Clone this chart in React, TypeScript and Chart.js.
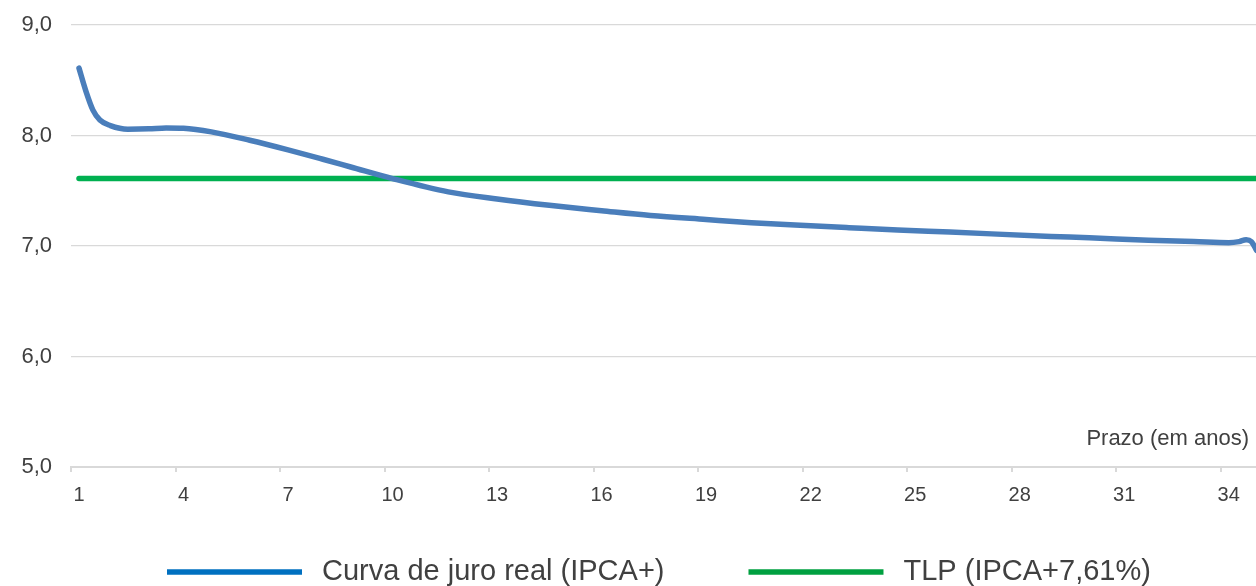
import React, { useEffect, useRef } from "react";
import { Chart, registerables } from "chart.js";

Chart.register(...registerables);

const curveLabel = "Curva de juro real (IPCA+)";
const tlpLabel = "TLP (IPCA+7,61%)";
const axisTitle = "Prazo (em anos)";

const curveYears = [1, 1.2, 1.4, 1.6, 1.9, 2.4, 3, 3.5, 4, 4.8, 5.9, 7, 8, 8.8, 10, 11.6, 13, 14.5, 16, 17.4, 19, 20.3, 22, 23.1, 24.5, 26, 28.9, 30, 31.7, 33, 34, 34.3, 34.5, 34.65, 34.8, 35];
const curveRates = [8.61, 8.4, 8.23, 8.14, 8.09, 8.057, 8.06, 8.069, 8.066, 8.033, 7.957, 7.87, 7.785, 7.715, 7.61, 7.49, 7.425, 7.368, 7.32, 7.277, 7.24, 7.211, 7.183, 7.166, 7.145, 7.126, 7.087, 7.075, 7.051, 7.04, 7.03, 7.04, 7.057, 7.04, 6.96, 6.85];

const tlpYears = [1, 35];
const tlpRates = [7.61, 7.61];

const xTickYears = [1, 4, 7, 10, 13, 16, 19, 22, 25, 28, 31, 34];
const xTickLabels = ["1", "4", "7", "10", "13", "16", "19", "22", "25", "28", "31", "34"];
const yTickValues = [5, 6, 7, 8, 9];
const yTickLabels = ["5,0", "6,0", "7,0", "8,0", "9,0"];

const FONT = "'Liberation Sans', Arial, sans-serif";
const TEXT = "#404040";
const GRID = "#d9d9d9";
const curveColor = "#4A7EBB";
const tlpColor = "#00B050";
const curveLegendColor = "#0070C0";
const tlpLegendColor = "#00A040";

export default function App() {
  const ref = useRef<HTMLCanvasElement | null>(null);
  useEffect(() => {
    const canvas = ref.current;
    if (!canvas) return;
    const legendColors = [curveLegendColor, tlpLegendColor];
    const decor = {
      id: "decor",
      afterDraw(chart: any) {
        const ctx = chart.ctx;
        const area = chart.chartArea;
        ctx.save();
        ctx.font = `22px ${FONT}`;
        ctx.fillStyle = TEXT;
        ctx.textAlign = "right";
        ctx.textBaseline = "alphabetic";
        ctx.fillText(axisTitle, area.right - 7, area.bottom - 22);
        ctx.font = `29px ${FONT}`;
        ctx.textAlign = "left";
        let x = 167;
        const lineY = 572;
        chart.data.datasets.forEach((ds: any, i: number) => {
          ctx.strokeStyle = legendColors[i];
          ctx.lineWidth = 5.5;
          ctx.lineCap = "butt";
          ctx.beginPath();
          ctx.moveTo(x, lineY);
          ctx.lineTo(x + 135, lineY);
          ctx.stroke();
          const tx = x + 155;
          ctx.fillStyle = TEXT;
          ctx.fillText(ds.label, tx, 579.5);
          x = tx + ctx.measureText(ds.label).width + 84;
        });
        ctx.restore();
      },
    };
    const chart = new Chart(canvas, {
      type: "line",
      data: {
        datasets: [
          {
            label: curveLabel,
            data: curveYears.map((y, i) => ({ x: y, y: curveRates[i] })),
            borderColor: curveColor,
            borderWidth: 5.5,
            pointRadius: 0,
            cubicInterpolationMode: "monotone",
            borderCapStyle: "round",
            borderJoinStyle: "round",
            fill: false,
          },
          {
            label: tlpLabel,
            data: tlpYears.map((y, i) => ({ x: y, y: tlpRates[i] })),
            borderColor: tlpColor,
            borderWidth: 5.5,
            pointRadius: 0,
            borderCapStyle: "round",
            fill: false,
          },
        ],
      },
      options: {
        animation: false,
        responsive: false,
        maintainAspectRatio: false,
        layout: { padding: { top: 25, right: 0, bottom: 79, left: 0 } },
        plugins: {
          legend: { display: false },
          tooltip: { enabled: false },
        },
        scales: {
          x: {
            type: "linear",
            min: 1 - 8 / 34.84,
            max: 1 + 1177 / 34.84,
            afterBuildTicks: (scale: any) => {
              scale.ticks = xTickYears.map((v) => ({ value: v - 8 / 34.84 }));
            },
            afterFit: (scale: any) => {
              scale.height = 40;
              scale.paddingLeft = 0;
              scale.paddingRight = 0;
            },
            ticks: {
              callback: (_v: any, i: number) => xTickLabels[i],
              labelOffset: 8,
              padding: 11,
              autoSkip: false,
              maxRotation: 0,
              color: TEXT,
              font: { family: FONT, size: 20 },
            },
            grid: {
              drawOnChartArea: false,
              drawTicks: true,
              tickLength: 5,
              color: GRID,
              lineWidth: 2,
            },
            border: { display: true, color: GRID, width: 2 },
          },
          y: {
            type: "linear",
            min: 5,
            max: 9,
            afterBuildTicks: (scale: any) => {
              scale.ticks = yTickValues.map((v) => ({ value: v }));
            },
            afterFit: (scale: any) => {
              scale.width = 71;
              scale.paddingTop = 0;
              scale.paddingBottom = 0;
            },
            ticks: {
              callback: (_v: any, i: number) => yTickLabels[i],
              padding: 19,
              color: TEXT,
              font: { family: FONT, size: 22 },
            },
            grid: {
              drawTicks: false,
              color: GRID,
              lineWidth: 1.2,
            },
            border: { display: false },
          },
        },
      },
      plugins: [decor],
    } as any);
    return () => chart.destroy();
  }, []);
  return (
    <div style={{ position: "fixed", left: 0, top: 0, width: 1256, height: 586, background: "#fff" }}>
      <canvas ref={ref} width={1256} height={586} style={{ display: "block" }} />
    </div>
  );
}
